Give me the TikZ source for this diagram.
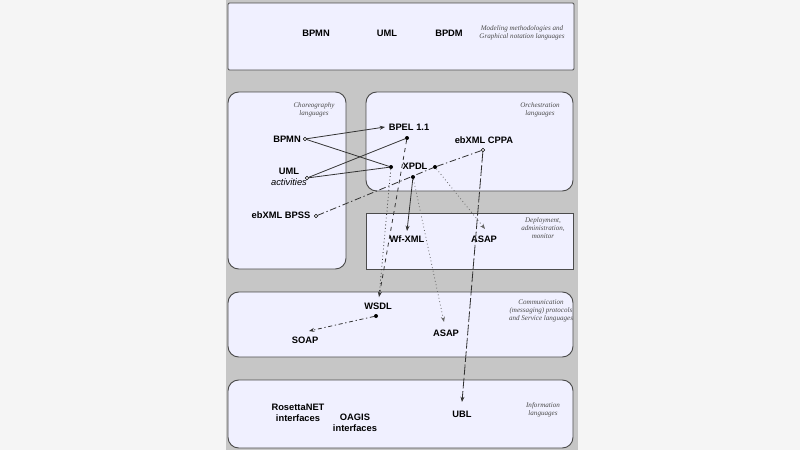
\documentclass[tikz,border=0pt]{standalone}
\usepackage{fontspec}
\setmainfont{Liberation Sans}
\newfontfamily\serif{Liberation Serif}
\usetikzlibrary{arrows.meta}
\begin{document}
\begin{tikzpicture}[x=0.75pt,y=-0.75pt,
  box/.style={draw=black!70,line width=0.7pt,fill=blue!6!white,rounded corners=8pt},
  sbox/.style={draw=black!70,line width=0.7pt,fill=blue!6!white},
  lab/.style={font=\bfseries\fontsize{7}{8}\selectfont,align=center,inner sep=1pt},
  captn/.style={font=\serif\itshape\fontsize{5.3}{6.3}\selectfont,align=center,text=black!70},
  dot/.style={circle,fill=black,inner sep=0pt,minimum size=3pt},
  odot/.style={circle,draw=black,fill=white,inner sep=0pt,minimum size=2.5pt},
  con/.style={line width=0.6pt,black!80},
  arr/.style={-{Stealth[length=4pt,width=3pt]}}]
\useasboundingbox (0,0) rectangle (800,450);
\fill[gray!8] (0,0) rectangle (800,450);
\fill[gray!45] (226,0) rectangle (578,450);
\draw[sbox,rounded corners=1pt] (228,3) rectangle (574,70);
\draw[box] (228,92) rectangle (346,269);
\draw[box] (366,92) rectangle (573,191);
\draw[sbox] (366,213) rectangle (573,269);
\draw[box] (228,292) rectangle (573,357);
\draw[box] (228,380) rectangle (573,448);
% top
\node[lab] (bpmnT) at (316,33) {BPMN};
\node[lab] (umlT) at (387,33) {UML};
\node[lab] (bpdm) at (449,33) {BPDM};
\node[captn] (c0) at (522,33) {Modeling methodologies and\\Graphical notation languages};
% captions
\node[captn] (c1) at (314,110) {Choreography\\languages};
\node[captn] (c2) at (540,110) {Orchestration\\languages};
\node[captn] (c3) at (543,228) {Deployment,\\administration,\\monitor};
\node[captn] (c4) at (541,311) {Communication\\(messaging) protocols\\and Service languages};
\node[captn] (c5) at (543,410) {Information\\languages};
% labels
\node[lab] (bpmn) at (287,139) {BPMN};
\node[lab] (uml) at (289,177) {UML\\\normalfont\itshape activities};
\node[lab] (bpss) at (281,215) {ebXML BPSS};
\node[lab] (bpel) at (409,127) {BPEL 1.1};
\node[lab] (xpdl) at (415,166) {XPDL};
\node[lab] (cppa) at (484,140) {ebXML CPPA};
\node[lab] (wf) at (407,239) {Wf-XML};
\node[lab] (asap1) at (484,239) {ASAP};
\node[lab] (wsdl) at (378,306) {WSDL};
\node[lab] (soap) at (305,340) {SOAP};
\node[lab] (asap2) at (446,333) {ASAP};
\node[lab] (ros) at (298,413) {RosettaNET\\interfaces};
\node[lab] (oagis) at (355,423) {OAGIS\\interfaces};
\node[lab] (ubl) at (462,414) {UBL};
% dots
\node[odot] (pB) at (305,139) {};
\node[odot] (pU) at (307,178) {};
\node[odot] (pS) at (316,216) {};
\node[dot] (pE) at (407,138) {};
\node[dot] (pX1) at (391,167) {};
\node[dot] (pX2) at (413,177) {};
\node[dot] (pX3) at (435,167) {};
\node[odot] (pC) at (483,150) {};
\node[dot] (pW) at (376,316) {};
\coordinate (tB) at (385,127);
\coordinate (tWf) at (407,231);
\coordinate (tA1) at (485,229);
\coordinate (tW) at (379,297);
\coordinate (tS) at (309,331);
\coordinate (tA2) at (444,322);
\coordinate (tU) at (462,402);
% connectors
\draw[con,arr] (pB) -- (tB);
\draw[con] (pB) -- (pX1);
\draw[con] (pU) -- (pE);
\draw[con] (pU) -- (pX1);
\draw[con,dash pattern=on 5pt off 2pt on 1pt off 2pt] (pS) -- (pX3) -- (pC);
\draw[con,arr] (pX2) -- (tWf);
\draw[con,arr,dashed] (pE) -- (tW);
\draw[con,dotted] (pX1) -- (tW);
\draw[con,arr,dotted,black!60] (pX2) -- (tA2);
\draw[con,arr,dotted,black!60] (pX3) -- (tA1);
\draw[con,arr,dash pattern=on 8pt off 2pt] (pC) -- (tU);
\draw[con,arr,dash pattern=on 3pt off 2pt on 1pt off 2pt] (pW) -- (tS);
\end{tikzpicture}
\end{document}
